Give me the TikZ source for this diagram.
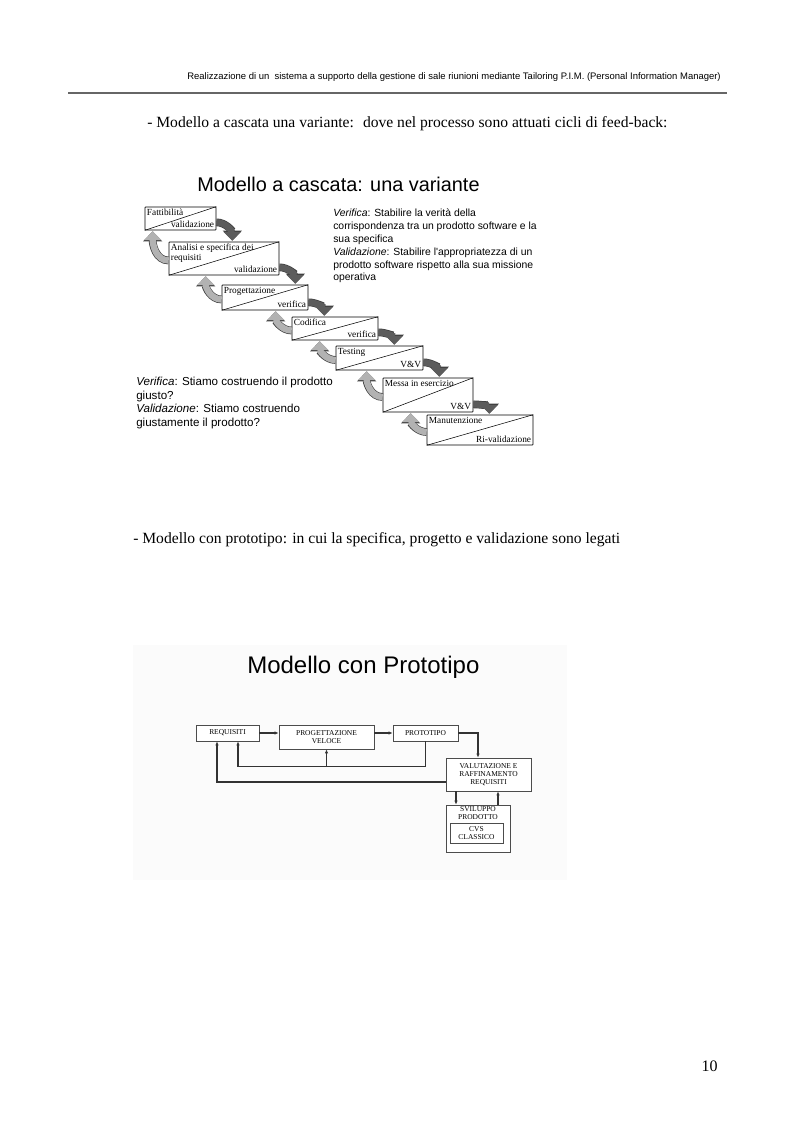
\documentclass[tikz,border=0pt]{standalone}
\usepackage{fontspec}
\setmainfont{Liberation Serif}
\newfontfamily\hvfont{Liberation Sans}
\usetikzlibrary{arrows.meta,calc,fit,positioning}
\definecolor{DownClr}{rgb}{0.36,0.36,0.36}
\definecolor{UpClr}{rgb}{0.70,0.70,0.70}
\definecolor{LinkClr}{rgb}{0.2,0.2,0.2}

\tikzset{
  cbox/.style={draw=black,fill=white,line width=0.5pt,inner sep=0pt,rounded corners=0.5pt},
  ctext/.style={font=\fontsize{7}{7.5}\selectfont,inner sep=1.5pt,align=left},
  arrline/.style={preaction={draw=black!75,line width=5.8pt,-{Triangle[width=14pt,length=7.6pt]}}},
  downarr/.style={arrline,DownClr,line width=4.8pt,-{Triangle[width=12.5pt,length=6.5pt]}},
  uparr/.style={arrline,UpClr,line width=4.8pt,-{Triangle[width=12.5pt,length=6.5pt]}},
  ptext/.style={inner sep=0pt,font=\fontsize{5.6}{6.2}\selectfont,align=center},
  pbox/.style={ptext,draw=black!70,fill=white,line width=0.5pt},
  plink/.style={LinkClr,line width=0.9pt,-{Latex[length=3pt,width=2.5pt]}},
  bodytext/.style={anchor=base west,inner sep=0pt,font=\fontsize{11.7}{14}\selectfont}
}

\begin{document}
\begin{tikzpicture}[x=0.75pt,y=0.75pt]
\useasboundingbox (0,0) rectangle (793,-1123);

% Header
\node[anchor=base east,inner sep=0pt,font=\hvfont\fontsize{7.1}{9}\selectfont] (head) at (721,-80)
  {Realizzazione di un~ sistema a supporto della gestione di sale riunioni mediante Tailoring P.I.M. (Personal Information Manager)};
\draw[black!60,line width=0.8pt] (68,-93) -- (727,-93);

\node[bodytext] (line1) at (147,-128) {- Modello a cascata una variante:~ dove nel processo sono attuati cicli di feed-back:};

% Waterfall, variant
\node[anchor=base west,inner sep=0pt,font=\hvfont\fontsize{14.9}{17}\selectfont] (ctitle) at (197,-192) {Modello a cascata: una variante};

\foreach \n/\xa/\ya/\xb/\yb/\tl/\br in {
  1/145/207/216/230/{Fattibilità}/{validazione},
  2/169/242/279/275/{Analisi e specifica dei\\requisiti}/{validazione},
  3/222/285/308/310/{Progettazione}/{verifica},
  4/292/317/378/340/{Codifica}/{verifica},
  5/336/346/423/370/{Testing}/{V\&V},
  6/383/378/473/412/{Messa in esercizio}/{V\&V},
  7/427/415/533/445/{Manutenzione}/{Ri-validazione}}{
  \coordinate (c\n-a) at (\xa,-\ya);
  \coordinate (c\n-b) at (\xb,-\yb);
  \node[cbox,fit=(c\n-a)(c\n-b)] (b\n) {};
  \draw[line width=0.4pt] (b\n.south west) -- (b\n.north east);
  \node[ctext,anchor=north west] (t\n) at (b\n.north west) {\tl};
  \node[ctext,anchor=south east] (v\n) at (b\n.south east) {\br};
}

% feed-forward and feed-back arrows
\foreach \i/\j in {1/2,2/3,3/4,4/5,5/6,6/7}{
  \draw[downarr] ($(b\i.south east)+(0,8)$) to[out=0,in=90] ($(b\i.east |- b\j.north)+(16,1)$);
  \draw[uparr] ($(b\j.west)+(0,-2)$) to[out=180,in=-90] ($(b\j.west |- b\i.south)+(-16,-1)$);
}

\node[anchor=north west,inner sep=0pt,align=left,font=\hvfont\fontsize{7.8}{9.6}\selectfont] (defR) at (333,-209)
  {\textit{Verifica}: Stabilire la verità della\\corrispondenza tra un prodotto software e la\\sua specifica\\
   \textit{Validazione}: Stabilire l'appropriatezza di un\\prodotto software rispetto alla sua missione\\operativa};

\node[anchor=north west,inner sep=0pt,align=left,font=\hvfont\fontsize{8.7}{10.2}\selectfont] (defL) at (136,-377)
  {\textit{Verifica}: Stiamo costruendo il prodotto\\giusto?\\\textit{Validazione}: Stiamo costruendo\\giustamente il prodotto?};

\node[bodytext] (line2) at (133,-543) {- Modello con prototipo: in cui la specifica, progetto e validazione sono legati};

% Prototype model
\fill[black!1.5] (133,-645) rectangle (567,-880);
\node[anchor=base west,inner sep=0pt,font=\hvfont\fontsize{18}{20}\selectfont] (ptitle) at (247,-673) {Modello con Prototipo};

\node[pbox,minimum width=47.25pt,minimum height=12pt] (req) at (227.5,-733) {REQUISITI};
\node[pbox,minimum width=71.25pt,minimum height=18pt] (prog) at (326.5,-737) {PROGETTAZIONE\\VELOCE};
\node[pbox,minimum width=48.75pt,minimum height=12pt] (proto) at (425.5,-733) {PROTOTIPO};
\node[pbox,minimum width=63.75pt,minimum height=24.75pt] (val) at (488.5,-774.5) {VALUTAZIONE E\\RAFFINAMENTO\\REQUISITI};
\node[pbox,minimum width=48pt,minimum height=35.25pt] (svil) at (478,-828.5) {};
\node[ptext,below=1pt of svil.north] (sviltxt) {SVILUPPO\\PRODOTTO};
\node[pbox,minimum width=39.75pt,minimum height=15pt] (cvs) at (476.5,-833) {CVS\\CLASSICO};

\coordinate (fb) at ($(proto.south)+(0,-25)$);
\coordinate (dn) at (456,0);
\coordinate (up) at (498,0);

\draw[plink] (req.east) -- (req.east -| prog.west);
\draw[plink] (proto.west -| prog.east) -- (proto.west);
\draw[plink] (proto.east) -| ($(val.north)+(-10.5,0)$);
\draw[plink] (proto.south) -- (fb) -| ($(req.south)+(10.5,0)$);
\draw[plink] (fb -| prog.south) -- (prog.south);
\draw[plink] ($(val.west)+(0,-7.5)$) -| ($(req.south)+(-10.5,0)$);
\draw[plink] (val.south -| dn) -- (svil.north -| dn);
\draw[plink] (svil.north -| up) -- (val.south -| up);

\node[anchor=base east,inner sep=0pt,font=\fontsize{12}{14}\selectfont] (pnum) at (718,-1071) {10};

\end{tikzpicture}
\end{document}
